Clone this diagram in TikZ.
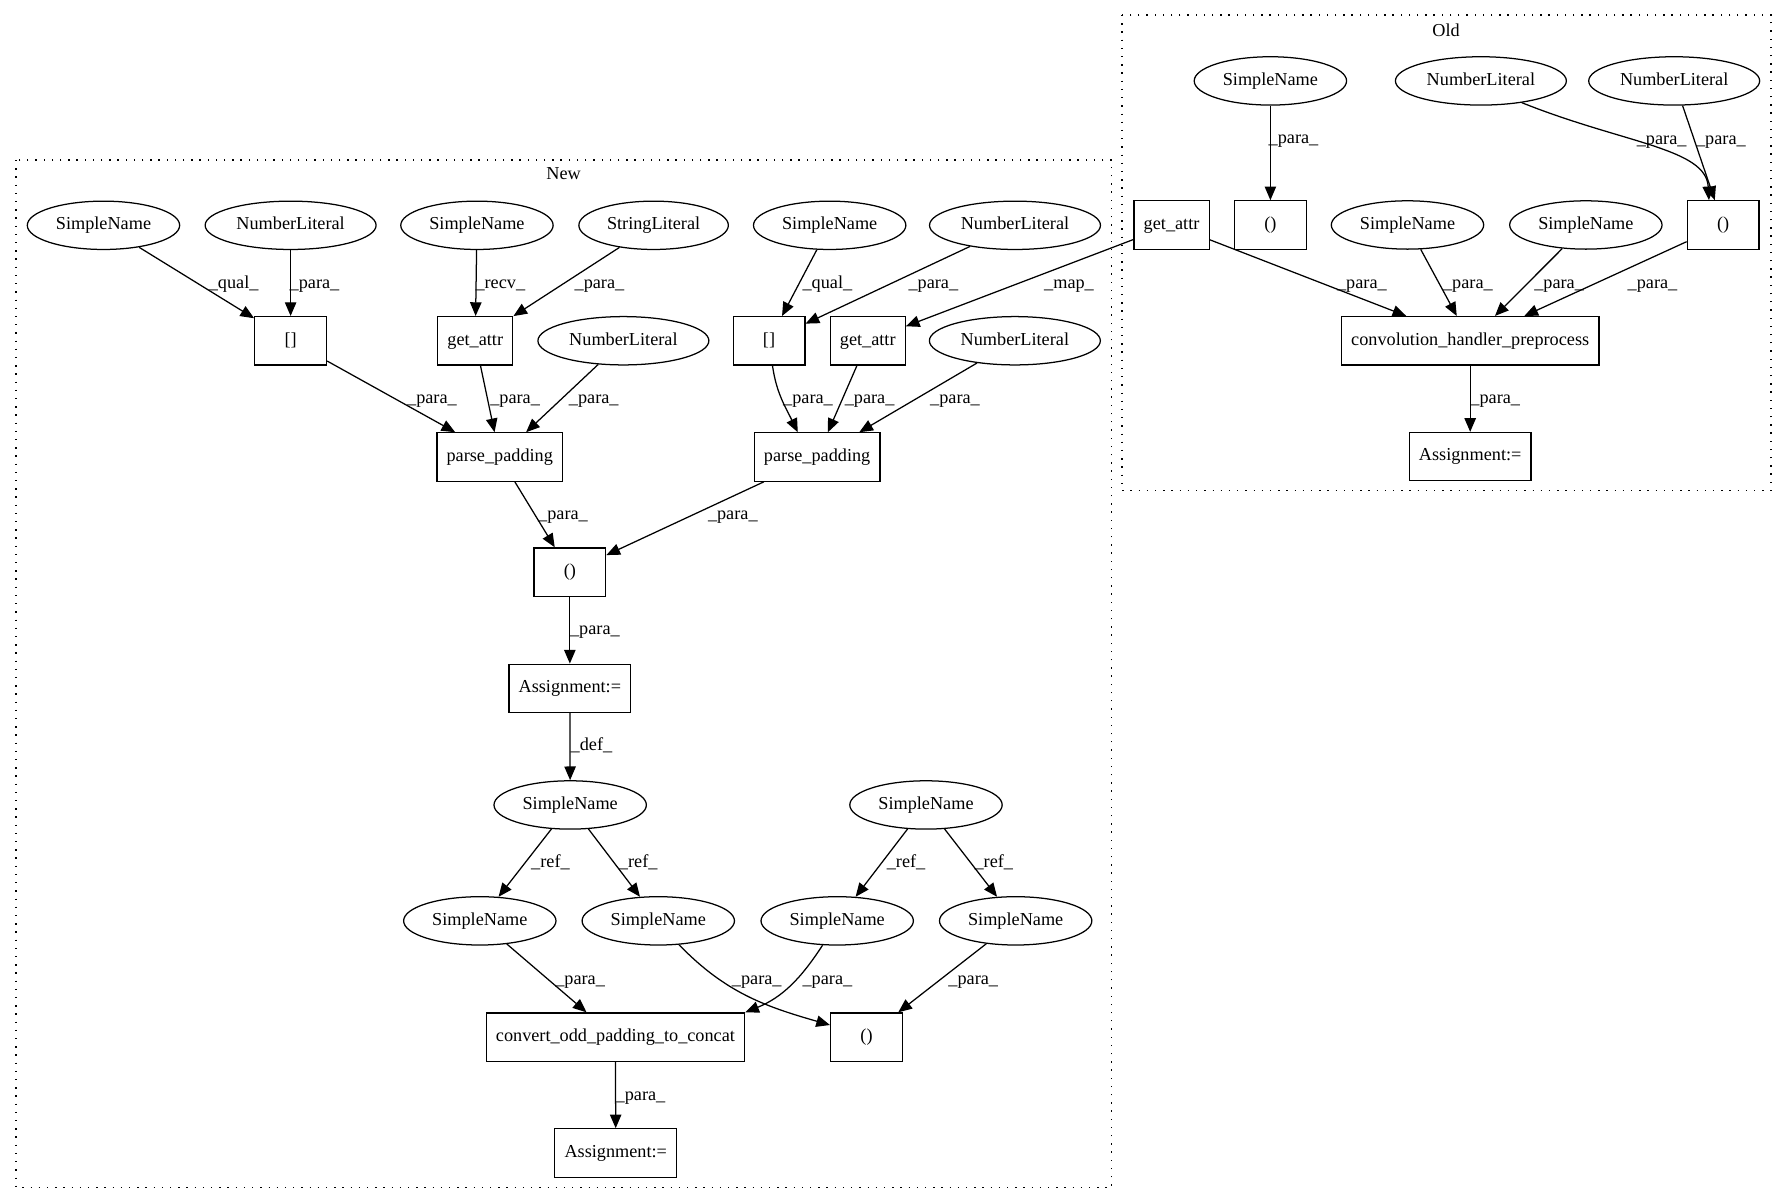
\documentclass[tikz,border=0pt]{standalone}
\usepackage{fontspec}
\setmainfont{Liberation Serif}
\usetikzlibrary{arrows.meta, shapes.geometric}

\begin{document}
\begin{tikzpicture}[x=1pt, y=-1pt,
    every node/.style={font=\fontsize{16}{19}\selectfont},
    astEllipse/.style={draw, ellipse, line width=1.1pt, inner xsep=5.5pt, inner ysep=0pt,
      minimum height=42.4pt, text height=11pt, text depth=3.5pt},
    astBox/.style={draw, rectangle, line width=1.1pt, inner xsep=8.5pt, inner ysep=0pt,
      minimum width=63pt, minimum height=42.4pt, text height=11pt, text depth=3.5pt},
    flowEdge/.style={draw, line width=1.1pt, -{Triangle[length=12pt, width=10pt]}},
    edgeLabel/.style={inner sep=0pt, text height=11pt, text depth=3.5pt},
    clusterBox/.style={draw, line width=1.1pt, dash pattern=on 1.2pt off 6pt}]
  \useasboundingbox (0,0) rectangle (1568,1056);

  % Old
  \draw[clusterBox] (984.4,13.2) rectangle (1554,430.5);
  \node (oldTitle) at (1268.8,26.3) {Old};
  \node[astEllipse] (oldName1) at (1114.7,71) {SimpleName};
  \node[astEllipse] (oldNum1) at (1299.4,71) {NumberLiteral};
  \node[astEllipse] (oldNum2) at (1469,71) {NumberLiteral};
  \node[astBox] (oldAttr) at (1028,197.4) {get\_attr};
  \node[astBox] (oldTuple1) at (1114.7,197.4) {()};
  \node[astEllipse] (oldName2) at (1235,197.4) {SimpleName};
  \node[astEllipse] (oldName3) at (1391.5,197.4) {SimpleName};
  \node[astBox] (oldTuple2) at (1512,197.4) {()};
  \node[astBox] (oldConv) at (1290,299) {convolution\_handler\_preprocess};
  \node[astBox] (oldAssign) at (1290,400.7) {Assignment:=};

  \draw[flowEdge] (oldName1) -- (oldTuple1) node[edgeLabel] at (1135,122) {\_para\_};
  \draw[flowEdge] (oldNum1.-28) .. controls (1425,126) and (1497,130) .. ([xshift=-12.5pt]oldTuple2.north)
    node[edgeLabel] at (1458,123) {\_para\_};
  \draw[flowEdge] (oldNum2) -- (oldTuple2) node[edgeLabel] at (1510,123) {\_para\_};
  \draw[flowEdge] (oldAttr) -- (oldConv) node[edgeLabel] at (1195,249) {\_para\_};
  \draw[flowEdge] (oldName2) -- (oldConv) node[edgeLabel] at (1288,249) {\_para\_};
  \draw[flowEdge] (oldName3) -- (oldConv) node[edgeLabel] at (1368,249) {\_para\_};
  \draw[flowEdge] (oldTuple2) -- (oldConv) node[edgeLabel] at (1450,249) {\_para\_};
  \draw[flowEdge] (oldConv) -- (oldAssign) node[edgeLabel] at (1312,350) {\_para\_};

  % New
  \draw[clusterBox] (14,140.4) rectangle (975.5,1042);
  \node (newTitle) at (494.6,152.7) {New};
  \node[astEllipse] (newName1) at (90.8,197.7) {SimpleName};
  \node[astEllipse] (newNum1) at (255,197.7) {NumberLiteral};
  \node[astEllipse] (newName2) at (418.5,197.7) {SimpleName};
  \node[astEllipse] (newStr) at (573.5,197.7) {StringLiteral};
  \node[astEllipse] (newName3) at (728,197.7) {SimpleName};
  \node[astEllipse] (newNum2) at (890.6,197.7) {NumberLiteral};
  \node[astBox] (newIdx1) at (255,299) {[]};
  \node[astBox] (newAttr1) at (417,299) {get\_attr};
  \node[astEllipse] (newNum3) at (547,299) {NumberLiteral};
  \node[astBox] (newIdx2) at (674.8,299) {[]};
  \node[astBox] (newAttr2) at (761.4,299) {get\_attr};
  \node[astEllipse] (newNum4) at (890.5,299) {NumberLiteral};
  \node[astBox] (newPad1) at (438.5,401) {parse\_padding};
  \node[astBox] (newPad2) at (717,401) {parse\_padding};
  \node[astBox] (newTuple1) at (500,502) {()};
  \node[astBox] (newAssign1) at (500,604) {Assignment:=};
  \node[astEllipse] (newVar1) at (500.3,706.3) {SimpleName};
  \node[astEllipse] (newVar2) at (812.5,706.3) {SimpleName};
  \node[astEllipse] (newUse1) at (421,808) {SimpleName};
  \node[astEllipse] (newUse2) at (577.6,808) {SimpleName};
  \node[astEllipse] (newUse3) at (734.6,808) {SimpleName};
  \node[astEllipse] (newUse4) at (891.2,808) {SimpleName};
  \node[astBox] (newConvert) at (540,910) {convert\_odd\_padding\_to\_concat};
  \node[astBox] (newTuple2) at (760.3,910) {()};
  \node[astBox] (newAssign2) at (540.3,1011.7) {Assignment:=};

  \draw[flowEdge] (oldAttr) -- (newAttr2) node[edgeLabel] at (938,249) {\_map\_};
  \draw[flowEdge] (newName1) -- (newIdx1) node[edgeLabel] at (205,249) {\_qual\_};
  \draw[flowEdge] (newNum1) -- (newIdx1) node[edgeLabel] at (276,249) {\_para\_};
  \draw[flowEdge] (newName2) -- (newAttr1) node[edgeLabel] at (439,249) {\_recv\_};
  \draw[flowEdge] (newStr) -- (newAttr1) node[edgeLabel] at (526,249) {\_para\_};
  \draw[flowEdge] (newName3) -- (newIdx2) node[edgeLabel] at (726,249) {\_qual\_};
  \draw[flowEdge] (newNum2) -- (newIdx2) node[edgeLabel] at (819,249) {\_para\_};
  \draw[flowEdge] (newIdx1) -- (newPad1) node[edgeLabel] at (379,350) {\_para\_};
  \draw[flowEdge] (newAttr1) -- (newPad1) node[edgeLabel] at (452,350) {\_para\_};
  \draw[flowEdge] (newNum3) -- (newPad1) node[edgeLabel] at (521,350) {\_para\_};
  \draw[flowEdge] ([xshift=3pt]newIdx2.south) to[out=-82, in=116] ([xshift=-17pt]newPad2.north)
    node[edgeLabel] at (709,350) {\_para\_};
  \draw[flowEdge] (newAttr2) -- (newPad2) node[edgeLabel] at (763,350) {\_para\_};
  \draw[flowEdge] (newNum4) -- (newPad2) node[edgeLabel] at (838,350) {\_para\_};
  \draw[flowEdge] (newPad1) -- (newTuple1) node[edgeLabel] at (494,452) {\_para\_};
  \draw[flowEdge] (newPad2) -- (newTuple1) node[edgeLabel] at (643,452) {\_para\_};
  \draw[flowEdge] (newTuple1) -- (newAssign1) node[edgeLabel] at (522,553) {\_para\_};
  \draw[flowEdge] (newAssign1) -- (newVar1) node[edgeLabel] at (519,655) {\_def\_};
  \draw[flowEdge] (newVar1) -- (newUse1) node[edgeLabel] at (483,757) {\_ref\_};
  \draw[flowEdge] (newVar1) -- (newUse2) node[edgeLabel] at (560,757) {\_ref\_};
  \draw[flowEdge] (newVar2) -- (newUse3) node[edgeLabel] at (795,757) {\_ref\_};
  \draw[flowEdge] (newVar2) -- (newUse4) node[edgeLabel] at (872,757) {\_ref\_};
  \draw[flowEdge] (newUse1) -- (newConvert) node[edgeLabel] at (509,860) {\_para\_};
  \draw[flowEdge] (newUse2.-49) to[out=-46, in=164] ([yshift=10.6pt]newTuple2.west)
    node[edgeLabel] at (664,860) {\_para\_};
  \draw[flowEdge] (newUse3.-121) to[out=-123, in=22] (newConvert.north east)
    node[edgeLabel] at (726,860) {\_para\_};
  \draw[flowEdge] (newUse4) -- (newTuple2) node[edgeLabel] at (854,860) {\_para\_};
  \draw[flowEdge] (newConvert) -- (newAssign2) node[edgeLabel] at (562,962) {\_para\_};
\end{tikzpicture}
\end{document}
